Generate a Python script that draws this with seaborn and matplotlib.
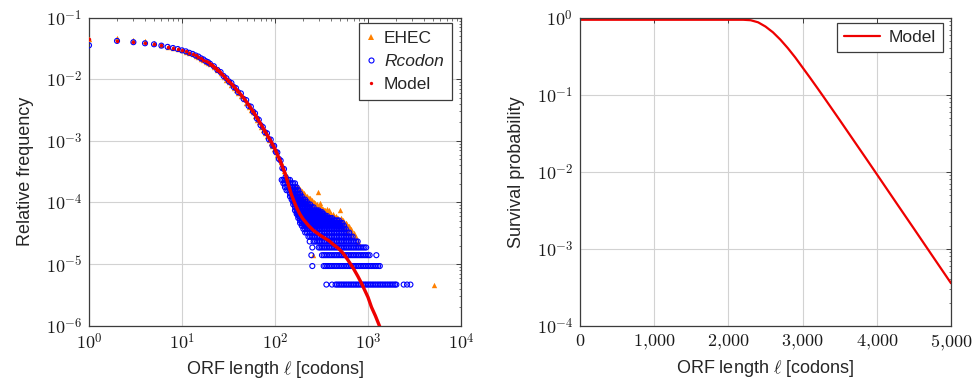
import matplotlib
matplotlib.use("Agg")
import numpy as np
import pandas as pd
import seaborn as sns
import matplotlib.pyplot as plt
from matplotlib.ticker import LogLocator, FixedLocator, FuncFormatter, NullFormatter
from matplotlib.lines import Line2D

# ---------------- data ----------------
# relative frequency of one single ORF (lowest level in the tails)
freq_unit = 4.65e-6

# short ORFs: every point follows the curve
body_len = [1, 2, 3, 4, 5, 6, 7, 8, 9, 10, 11, 12, 13, 14, 15, 16, 17, 18, 19, 20,
            22, 24, 26, 28, 30, 32, 34, 36, 38, 40, 43, 46, 49, 52, 55, 58, 61, 64, 67, 70,
            74, 78, 82, 86, 90, 94, 98, 102, 106, 110, 115, 120, 125, 130]
rcodon_body = [0.0356, 0.0420, 0.0400, 0.0384, 0.0370, 0.0352, 0.0336, 0.0322, 0.0310, 0.0295,
               0.0284, 0.0269, 0.0258, 0.0244, 0.0234, 0.0219, 0.0210, 0.0197, 0.0190, 0.0179,
               0.0163, 0.0142, 0.0131, 0.0113, 0.0104, 0.0092, 0.0087, 0.0075, 0.0072, 0.0062,
               0.0059, 0.0048, 0.0046, 0.0037, 0.0036, 0.0030, 0.0028, 0.0023, 0.0022, 0.0018,
               0.00168, 0.00138, 0.00133, 0.00106, 0.00105, 0.00084, 0.00083, 0.00066, 0.00065, 0.00051,
               0.00048, 0.00036, 0.00035, 0.00026]
ehec_body = [0.0445, 0.0470, 0.0440, 0.0420, 0.0385, 0.0362, 0.0340, 0.0328, 0.0312, 0.0297,
             0.0280, 0.0268, 0.0255, 0.0240, 0.0230, 0.0216, 0.0205, 0.0193, 0.0185, 0.0174,
             0.0157, 0.0140, 0.0125, 0.0110, 0.0098, 0.0089, 0.0081, 0.0073, 0.0066, 0.0060,
             0.0053, 0.0047, 0.0041, 0.0036, 0.0032, 0.0029, 0.0025, 0.0022, 0.0020, 0.0017,
             0.00150, 0.00135, 0.00118, 0.00104, 0.00094, 0.00084, 0.00075, 0.00066, 0.00059, 0.00052,
             0.00045, 0.00038, 0.00033, 0.00028]

# long ORFs: Rcodon counts sit on discrete levels (count * freq_unit)
tail_len = [118, 123, 128, 133, 139, 145, 151, 157, 164, 171, 178, 186, 194, 202, 211, 220,
            229, 239, 249, 260, 271, 283, 295, 307, 320, 334, 348, 363, 379, 395, 412, 430,
            448, 467, 487, 508, 530, 553, 577, 602, 628, 655, 683, 712, 743, 775, 808, 843,
            879, 917, 956, 997, 1040, 1085, 1132, 1181, 1232, 1285, 1340, 1397, 1457, 1520,
            1585, 1653, 1724, 1798, 1875, 1955, 2020]
rcodon_row_count = [1, 2, 3, 4, 5, 6, 7, 8, 9, 10, 11, 12, 13, 14, 15, 16, 18, 20, 22, 24,
                    27, 30, 34, 38, 44, 50]
rcodon_row_from = [440, 323, 315, 290, 257, 226, 210, 200, 191, 186, 182, 178, 176, 171, 168,
                   164, 160, 155, 152, 150, 145, 140, 133, 128, 121, 118]
rcodon_row_to = [2020, 1393, 1061, 958, 780, 700, 640, 600, 560, 530, 500, 420, 370, 340, 320,
                 300, 270, 245, 226, 215, 200, 192, 180, 172, 165, 150]
rcodon_extra_len = [357, 410, 2420, 2630, 2860, 252, 246, 1230, 252, 236]
rcodon_extra_count = [1, 1, 1, 1, 1, 2, 3, 3, 4, 5]

# EHEC tail: (length, count) pairs, mostly above the Rcodon cloud
ehec_tail_len = [135, 142, 150, 160, 165, 176, 185, 190, 200, 210, 220, 235, 245, 255, 265,
                 280, 290, 302, 315, 330, 345, 360, 385, 400, 420, 435, 460, 480, 497, 520,
                 550, 580, 610, 636, 680, 720, 780, 255, 5180,
                 170, 180, 195, 205, 215, 228, 240, 250, 262, 275, 295, 310, 325, 340, 355,
                 370, 395, 410, 445, 470, 505, 530, 565, 600, 650,
                 172, 178, 186, 196, 206, 212, 222, 232, 240, 252, 258, 270, 285, 290, 308,
                 320, 335, 350, 365, 378, 392, 405, 425, 450, 475, 510, 540, 575, 620, 660,
                 700, 750]
ehec_tail_count = [55, 45, 36, 33, 30, 34, 29, 26, 30, 27, 24, 25, 22, 20, 22,
                   19, 32, 21, 18, 17, 16, 17, 15, 14, 13, 13, 12, 11, 16, 11,
                   10, 10, 9, 8, 7, 6, 5, 3, 1,
                   28, 25, 24, 22, 20, 21, 18, 17, 18, 16, 15, 16, 14, 13, 12,
                   13, 11, 12, 10, 9, 9, 8, 8, 7, 6,
                   40, 38, 36, 33, 31, 28, 27, 25, 23, 24, 21, 21, 20, 18, 19,
                   17, 16, 15, 14, 16, 14, 13, 14, 13, 12, 12, 11, 10, 9, 8,
                   7, 6]

# model: single dots for short ORFs, a line beyond
model_dot_len = [1, 2, 3, 4, 5, 6, 7, 8, 9, 10, 11, 12, 13, 14, 15, 16, 17, 18, 19, 20,
                 21, 22, 23, 24, 25]
model_dot_freq = [0.0447, 0.0420, 0.0402, 0.0386, 0.0372, 0.0355, 0.0338, 0.0324, 0.0310, 0.0296,
                  0.0283, 0.0270, 0.0257, 0.0245, 0.0233, 0.0220, 0.0209, 0.0198, 0.0189, 0.0180,
                  0.0170, 0.0161, 0.0152, 0.0144, 0.0136]
model_len = [20, 25, 30, 35, 40, 45, 50, 60, 70, 80, 90, 100, 112, 127, 140, 150, 160, 170,
             185, 200, 230, 260, 300, 340, 380, 420, 480, 540, 600, 650, 700, 780, 850, 920,
             1000, 1090, 1200, 1340, 1420]
model_freq = [0.0180, 0.0136, 0.0102, 0.0081, 0.0064, 0.0052, 0.0042, 0.0028, 0.0019, 0.00135,
              0.00100, 0.00074, 0.00050, 0.00031, 0.00019, 0.000135, 0.000105, 8.4e-5,
              6.5e-5, 5.4e-5, 4.2e-5, 3.5e-5, 3.0e-5, 2.65e-5, 2.4e-5, 2.1e-5, 1.8e-5, 1.5e-5,
              1.2e-5, 1.0e-5, 8.4e-6, 6.3e-6, 4.9e-6, 3.8e-6, 2.9e-6, 2.0e-6, 1.45e-6, 0.96e-6, 0.8e-6]

# survival probability of the model
surv_len = [0, 1000, 2000, 2200, 2300, 2400, 2500, 2600, 2700, 2800, 2900, 3000, 3100, 3200,
            3300, 3500, 3700, 3850, 4000, 4250, 4500, 4750, 5000]
surv_prob = [0.94, 0.94, 0.94, 0.94, 0.927, 0.871, 0.767, 0.646, 0.519, 0.403, 0.305, 0.225,
             0.166, 0.1216, 0.0887, 0.0468, 0.0245, 0.0151, 0.00927, 0.0041, 0.00182, 0.000804,
             0.000356]

# ---------------- tables ----------------
rc_x, rc_y = list(body_len), list(rcodon_body)
for n, lo, hi in zip(rcodon_row_count, rcodon_row_from, rcodon_row_to):
    for l in tail_len:
        if lo <= l <= hi:
            rc_x.append(l)
            rc_y.append(n * freq_unit)
for l, n in zip(rcodon_extra_len, rcodon_extra_count):
    rc_x.append(l)
    rc_y.append(n * freq_unit)
rcodon = pd.DataFrame({"len": rc_x, "freq": rc_y})

ehec = pd.DataFrame({"len": body_len + ehec_tail_len,
                     "freq": ehec_body + [n * freq_unit for n in ehec_tail_count]})

# ---------------- style ----------------
sns.set_style("white")
plt.rcParams.update({
    "font.family": ["Liberation Sans", "DejaVu Sans"],
    "mathtext.fontset": "cm",
    "font.size": 13,
    "axes.edgecolor": "#3c3c3c",
    "axes.linewidth": 0.9,
})

c_orange = "#ff8000"
c_blue = "#0000ff"
c_red = "#ee0000"
c_grid = "#d2d2d2"
c_spine = "#3c3c3c"

fig = plt.figure(figsize=(9.75, 3.78), dpi=100)
ax1 = fig.add_axes([0.0913, 0.1384, 0.3815, 0.8148])
ax2 = fig.add_axes([0.5949, 0.1384, 0.3805, 0.8148])

# ---------------- left: relative frequency ----------------
ax1.set_xscale("log")
ax1.set_yscale("log")
sns.scatterplot(data=ehec, x="len", y="freq", ax=ax1, marker="^", color=c_orange,
                s=15, linewidth=0, legend=False, zorder=3)
sns.scatterplot(data=rcodon, x="len", y="freq", ax=ax1, marker="o", color=c_blue,
                facecolor="none", edgecolor=c_blue, s=13, linewidth=0.8, legend=False, zorder=4)
sns.scatterplot(x=model_dot_len, y=model_dot_freq, ax=ax1, marker="o", color=c_red,
                s=6, linewidth=0, legend=False, zorder=5)
sns.lineplot(x=model_len, y=model_freq, ax=ax1, color=c_red, lw=2.4, zorder=5)

ax1.set_xlim(1, 1e4)
ax1.set_ylim(1e-6, 1e-1)
ax1.xaxis.set_major_locator(LogLocator(base=10, numticks=10))
ax1.yaxis.set_major_locator(LogLocator(base=10, numticks=10))
ax1.xaxis.set_minor_locator(LogLocator(base=10, subs=np.arange(2, 10), numticks=20))
ax1.yaxis.set_minor_locator(LogLocator(base=10, subs=np.arange(2, 10), numticks=20))
pow_fmt = FuncFormatter(lambda v, _: r"$10^{%d}$" % int(round(np.log10(v))))
ax1.xaxis.set_major_formatter(pow_fmt)
ax1.yaxis.set_major_formatter(pow_fmt)
ax1.xaxis.set_minor_formatter(NullFormatter())
ax1.yaxis.set_minor_formatter(NullFormatter())
ax1.set_xlabel(r"ORF length $\ell$ [codons]", labelpad=4)
ax1.set_ylabel("Relative frequency", labelpad=8)

leg_handles = [
    Line2D([], [], ls="none", marker="^", color=c_orange, markersize=3.8, markeredgewidth=0),
    Line2D([], [], ls="none", marker="o", markerfacecolor="none", markeredgecolor=c_blue,
           markersize=3.6, markeredgewidth=0.8),
    Line2D([], [], ls="none", marker="o", color=c_red, markersize=2.4, markeredgewidth=0),
]
leg1 = ax1.legend(leg_handles, ["EHEC", "Rcodon", "Model"], loc="upper right",
                  bbox_to_anchor=(0.975, 0.983), borderaxespad=0, fancybox=False, framealpha=1,
                  edgecolor=c_spine, handlelength=0.5, handletextpad=0.5,
                  labelspacing=0.45, borderpad=0.45, fontsize=12.5)
leg1.get_frame().set_linewidth(0.9)
leg1.get_texts()[1].set_style("italic")

# ---------------- right: survival probability ----------------
ax2.set_yscale("log")
sns.lineplot(x=surv_len, y=surv_prob, ax=ax2, color=c_red, lw=1.6, label="Model")
ax2.set_xlim(0, 5000)
ax2.set_ylim(1e-4, 1)
ax2.xaxis.set_major_locator(FixedLocator([0, 1000, 2000, 3000, 4000, 5000]))
ax2.xaxis.set_major_formatter(FuncFormatter(
    lambda v, _: "$0$" if v == 0 else r"$%d{,}%03d$" % (int(v) // 1000, int(v) % 1000)))
ax2.yaxis.set_major_locator(LogLocator(base=10, numticks=10))
ax2.yaxis.set_minor_locator(LogLocator(base=10, subs=np.arange(2, 10), numticks=20))
ax2.yaxis.set_major_formatter(pow_fmt)
ax2.yaxis.set_minor_formatter(NullFormatter())
ax2.set_xlabel(r"ORF length $\ell$ [codons]", labelpad=4)
ax2.set_ylabel("Survival probability", labelpad=8)
leg2 = ax2.legend(loc="upper right", bbox_to_anchor=(0.978, 0.983), borderaxespad=0,
                  fancybox=False, framealpha=1, edgecolor=c_spine, handlelength=2.1,
                  handletextpad=0.5, borderpad=0.4, fontsize=12.5)
leg2.get_frame().set_linewidth(0.9)

for ax in (ax1, ax2):
    ax.grid(True, which="major", color=c_grid, lw=0.8)
    ax.set_axisbelow(True)
    ax.tick_params(which="both", direction="in", top=True, right=True, colors=c_spine,
                   labelcolor="#1a1a1a", labelsize=13)
    ax.tick_params(which="major", length=3.5, width=0.7, pad=5)
    ax.tick_params(which="minor", length=1.8, width=0.5)
    for s in ax.spines.values():
        s.set_color(c_spine)
        s.set_visible(True)

fig.savefig("out.png", dpi=100)
